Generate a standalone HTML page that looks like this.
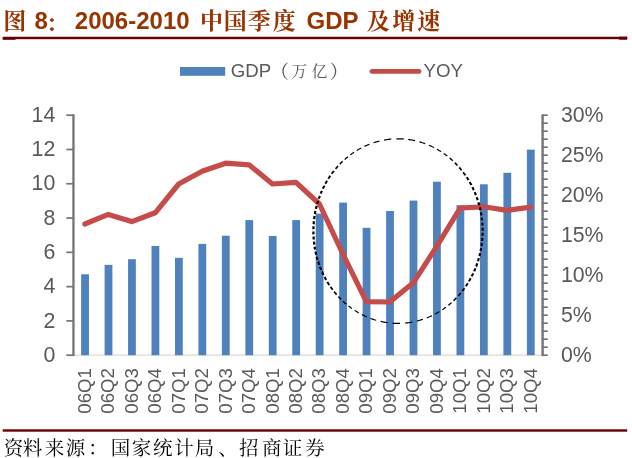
<!DOCTYPE html>
<html lang="zh-CN"><head><meta charset="utf-8"><title>图 8</title>
<style>
html,body{margin:0;padding:0;background:#fff;}
body{width:632px;height:458px;overflow:hidden;position:relative;font-family:"Liberation Sans","Noto Serif CJK SC",sans-serif;}
svg{position:absolute;left:0;top:0;display:block;filter:blur(0.4px)}
.ax{font-family:"Liberation Sans",sans-serif;fill:#595959}
.kai{font-family:"Liberation Sans","Noto Serif CJK SC",serif}
</style></head><body>
<svg width="632" height="458" viewBox="0 0 632 458">
<rect x="0" y="0" width="632" height="458" fill="#ffffff"/>
<text class="kai" x="3.20" y="29.0" font-size="23" font-weight="bold" fill="#993300">图</text>
<text class="kai" x="34.60" y="29.3" font-size="24" font-weight="bold" fill="#993300">8</text>
<text class="kai" x="46.10" y="30.9" font-size="22" font-weight="bold" fill="#993300">：</text>
<text class="kai" x="74.80" y="29.3" font-size="24" font-weight="bold" fill="#993300">2006-2010</text>
<text class="kai" x="200.00 223.80 247.70 272.70" y="29.0" font-size="23" font-weight="bold" fill="#993300">中国季度</text>
<text class="kai" x="306.60" y="29.3" font-size="24" font-weight="bold" fill="#993300">GDP</text>
<text class="kai" x="366.80 392.30 417.30" y="29.0" font-size="23" font-weight="bold" fill="#993300">及增速</text>
<rect x="2.7" y="36.75" width="624.5" height="2.45" fill="#6a0004"/>
<rect x="2.7" y="38" width="12.8" height="1.8" fill="#6a0004"/>
<rect x="619" y="36.7" width="8.2" height="3.0" fill="#6a0004"/>
<rect x="180" y="67" width="45.2" height="8.8" fill="#4f81bd"/>
<text class="kai" x="230.80" y="76.8" font-size="18.67" font-weight="normal" fill="#595959">GDP</text>
<text class="kai" x="270.27" y="77.6" font-size="18.67" font-weight="normal" fill="#595959">（</text>
<text class="kai" x="291.55 311.65" y="76.9" font-size="15.5" font-weight="normal" fill="#595959">万亿</text>
<text class="kai" x="329.87" y="77.6" font-size="18.67" font-weight="normal" fill="#595959">）</text>
<line x1="372" y1="71.4" x2="419" y2="71.4" stroke="#c44d4b" stroke-width="4.9" stroke-linecap="round"/>
<text class="ax" x="423.6" y="76.8" font-size="18.67">YOY</text>
<line x1="73.1" y1="355.2" x2="542.3" y2="355.2" stroke="#d9d9d9" stroke-width="1.3"/>
<rect x="81.13" y="274.29" width="7.8" height="80.91" fill="#4f81bd"/>
<rect x="104.59" y="264.86" width="7.8" height="90.34" fill="#4f81bd"/>
<rect x="128.05" y="259.20" width="7.8" height="96.00" fill="#4f81bd"/>
<rect x="151.51" y="246.00" width="7.8" height="109.20" fill="#4f81bd"/>
<rect x="174.97" y="257.83" width="7.8" height="97.37" fill="#4f81bd"/>
<rect x="198.43" y="243.94" width="7.8" height="111.26" fill="#4f81bd"/>
<rect x="221.89" y="235.71" width="7.8" height="119.49" fill="#4f81bd"/>
<rect x="245.35" y="220.11" width="7.8" height="135.09" fill="#4f81bd"/>
<rect x="268.81" y="236.06" width="7.8" height="119.14" fill="#4f81bd"/>
<rect x="292.27" y="220.11" width="7.8" height="135.09" fill="#4f81bd"/>
<rect x="315.73" y="213.60" width="7.8" height="141.60" fill="#4f81bd"/>
<rect x="339.19" y="202.63" width="7.8" height="152.57" fill="#4f81bd"/>
<rect x="362.65" y="227.83" width="7.8" height="127.37" fill="#4f81bd"/>
<rect x="386.11" y="211.03" width="7.8" height="144.17" fill="#4f81bd"/>
<rect x="409.57" y="200.57" width="7.8" height="154.63" fill="#4f81bd"/>
<rect x="433.03" y="181.71" width="7.8" height="173.49" fill="#4f81bd"/>
<rect x="456.49" y="205.20" width="7.8" height="150.00" fill="#4f81bd"/>
<rect x="479.95" y="184.29" width="7.8" height="170.91" fill="#4f81bd"/>
<rect x="503.41" y="172.80" width="7.8" height="182.40" fill="#4f81bd"/>
<rect x="526.87" y="149.66" width="7.8" height="205.54" fill="#4f81bd"/>
<g stroke="#737377" stroke-width="1.7" fill="none">
<line x1="73.44999999999999" y1="114.35000000000001" x2="73.44999999999999" y2="356.05" stroke-width="2.3"/>
<line x1="66.3" y1="115.20" x2="73.44999999999999" y2="115.20"/>
<line x1="66.3" y1="149.49" x2="73.44999999999999" y2="149.49"/>
<line x1="66.3" y1="183.77" x2="73.44999999999999" y2="183.77"/>
<line x1="66.3" y1="218.06" x2="73.44999999999999" y2="218.06"/>
<line x1="66.3" y1="252.34" x2="73.44999999999999" y2="252.34"/>
<line x1="66.3" y1="286.63" x2="73.44999999999999" y2="286.63"/>
<line x1="66.3" y1="320.91" x2="73.44999999999999" y2="320.91"/>
<line x1="66.3" y1="355.20" x2="73.44999999999999" y2="355.20"/>
<line x1="542.5999999999999" y1="114.35000000000001" x2="542.5999999999999" y2="356.05" stroke-width="2.4"/>
<line x1="542.5999999999999" y1="115.20" x2="547.6999999999999" y2="115.20"/>
<line x1="542.5999999999999" y1="123.20" x2="547.6999999999999" y2="123.20"/>
<line x1="542.5999999999999" y1="131.20" x2="547.6999999999999" y2="131.20"/>
<line x1="542.5999999999999" y1="139.20" x2="547.6999999999999" y2="139.20"/>
<line x1="542.5999999999999" y1="147.20" x2="547.6999999999999" y2="147.20"/>
<line x1="542.5999999999999" y1="155.20" x2="547.6999999999999" y2="155.20"/>
<line x1="542.5999999999999" y1="163.20" x2="547.6999999999999" y2="163.20"/>
<line x1="542.5999999999999" y1="171.20" x2="547.6999999999999" y2="171.20"/>
<line x1="542.5999999999999" y1="179.20" x2="547.6999999999999" y2="179.20"/>
<line x1="542.5999999999999" y1="187.20" x2="547.6999999999999" y2="187.20"/>
<line x1="542.5999999999999" y1="195.20" x2="547.6999999999999" y2="195.20"/>
<line x1="542.5999999999999" y1="203.20" x2="547.6999999999999" y2="203.20"/>
<line x1="542.5999999999999" y1="211.20" x2="547.6999999999999" y2="211.20"/>
<line x1="542.5999999999999" y1="219.20" x2="547.6999999999999" y2="219.20"/>
<line x1="542.5999999999999" y1="227.20" x2="547.6999999999999" y2="227.20"/>
<line x1="542.5999999999999" y1="235.20" x2="547.6999999999999" y2="235.20"/>
<line x1="542.5999999999999" y1="243.20" x2="547.6999999999999" y2="243.20"/>
<line x1="542.5999999999999" y1="251.20" x2="547.6999999999999" y2="251.20"/>
<line x1="542.5999999999999" y1="259.20" x2="547.6999999999999" y2="259.20"/>
<line x1="542.5999999999999" y1="267.20" x2="547.6999999999999" y2="267.20"/>
<line x1="542.5999999999999" y1="275.20" x2="547.6999999999999" y2="275.20"/>
<line x1="542.5999999999999" y1="283.20" x2="547.6999999999999" y2="283.20"/>
<line x1="542.5999999999999" y1="291.20" x2="547.6999999999999" y2="291.20"/>
<line x1="542.5999999999999" y1="299.20" x2="547.6999999999999" y2="299.20"/>
<line x1="542.5999999999999" y1="307.20" x2="547.6999999999999" y2="307.20"/>
<line x1="542.5999999999999" y1="315.20" x2="547.6999999999999" y2="315.20"/>
<line x1="542.5999999999999" y1="323.20" x2="547.6999999999999" y2="323.20"/>
<line x1="542.5999999999999" y1="331.20" x2="547.6999999999999" y2="331.20"/>
<line x1="542.5999999999999" y1="339.20" x2="547.6999999999999" y2="339.20"/>
<line x1="542.5999999999999" y1="347.20" x2="547.6999999999999" y2="347.20"/>
<line x1="542.5999999999999" y1="355.20" x2="547.6999999999999" y2="355.20"/>
</g>
<text class="ax" x="55.3" y="121.60" font-size="21.33" text-anchor="end">14</text>
<text class="ax" x="55.3" y="155.98" font-size="21.33" text-anchor="end">12</text>
<text class="ax" x="55.3" y="190.35" font-size="21.33" text-anchor="end">10</text>
<text class="ax" x="55.3" y="224.73" font-size="21.33" text-anchor="end">8</text>
<text class="ax" x="55.3" y="259.10" font-size="21.33" text-anchor="end">6</text>
<text class="ax" x="55.3" y="293.48" font-size="21.33" text-anchor="end">4</text>
<text class="ax" x="55.3" y="327.85" font-size="21.33" text-anchor="end">2</text>
<text class="ax" x="55.3" y="362.23" font-size="21.33" text-anchor="end">0</text>
<text class="ax" x="560.9" y="121.90" font-size="21.33">30%</text>
<text class="ax" x="560.9" y="161.98" font-size="21.33">25%</text>
<text class="ax" x="560.9" y="202.06" font-size="21.33">20%</text>
<text class="ax" x="560.9" y="242.14" font-size="21.33">15%</text>
<text class="ax" x="560.9" y="282.22" font-size="21.33">10%</text>
<text class="ax" x="560.9" y="322.30" font-size="21.33">5%</text>
<text class="ax" x="560.9" y="362.38" font-size="21.33">0%</text>
<text class="ax" font-size="18.67" text-anchor="end" transform="translate(90.83,368.0) rotate(-90)">06Q1</text>
<text class="ax" font-size="18.67" text-anchor="end" transform="translate(114.29,368.0) rotate(-90)">06Q2</text>
<text class="ax" font-size="18.67" text-anchor="end" transform="translate(137.75,368.0) rotate(-90)">06Q3</text>
<text class="ax" font-size="18.67" text-anchor="end" transform="translate(161.21,368.0) rotate(-90)">06Q4</text>
<text class="ax" font-size="18.67" text-anchor="end" transform="translate(184.67,368.0) rotate(-90)">07Q1</text>
<text class="ax" font-size="18.67" text-anchor="end" transform="translate(208.13,368.0) rotate(-90)">07Q2</text>
<text class="ax" font-size="18.67" text-anchor="end" transform="translate(231.59,368.0) rotate(-90)">07Q3</text>
<text class="ax" font-size="18.67" text-anchor="end" transform="translate(255.05,368.0) rotate(-90)">07Q4</text>
<text class="ax" font-size="18.67" text-anchor="end" transform="translate(278.51,368.0) rotate(-90)">08Q1</text>
<text class="ax" font-size="18.67" text-anchor="end" transform="translate(301.97,368.0) rotate(-90)">08Q2</text>
<text class="ax" font-size="18.67" text-anchor="end" transform="translate(325.43,368.0) rotate(-90)">08Q3</text>
<text class="ax" font-size="18.67" text-anchor="end" transform="translate(348.89,368.0) rotate(-90)">08Q4</text>
<text class="ax" font-size="18.67" text-anchor="end" transform="translate(372.35,368.0) rotate(-90)">09Q1</text>
<text class="ax" font-size="18.67" text-anchor="end" transform="translate(395.81,368.0) rotate(-90)">09Q2</text>
<text class="ax" font-size="18.67" text-anchor="end" transform="translate(419.27,368.0) rotate(-90)">09Q3</text>
<text class="ax" font-size="18.67" text-anchor="end" transform="translate(442.73,368.0) rotate(-90)">09Q4</text>
<text class="ax" font-size="18.67" text-anchor="end" transform="translate(466.19,368.0) rotate(-90)">10Q1</text>
<text class="ax" font-size="18.67" text-anchor="end" transform="translate(489.65,368.0) rotate(-90)">10Q2</text>
<text class="ax" font-size="18.67" text-anchor="end" transform="translate(513.11,368.0) rotate(-90)">10Q3</text>
<text class="ax" font-size="18.67" text-anchor="end" transform="translate(536.57,368.0) rotate(-90)">10Q4</text>
<polyline points="84.83,224.00 108.29,214.40 131.75,221.60 155.21,212.80 178.67,184.00 202.13,171.20 225.59,163.20 249.05,164.80 272.51,184.00 295.97,182.40 319.43,204.00 342.89,254.00 366.35,301.60 389.81,302.00 413.27,282.80 436.73,246.40 460.19,208.00 483.65,206.80 507.11,210.40 530.57,207.20" fill="none" stroke="#c44d4b" stroke-width="5.2" stroke-linejoin="round" stroke-linecap="round"/>
<g fill="none" stroke="#000">
<path d="M408.1,139.5 L409.3,139.6 L410.4,139.8 L411.6,140.0 L412.7,140.2 L413.8,140.4 L415.0,140.7 L415.0,140.7" stroke-width="1.20"/>
<path d="M419.4,141.8 L420.4,142.1 L421.4,142.4 L422.3,142.7 L423.3,143.0 L424.3,143.4 L425.2,143.7" stroke-width="1.20"/>
<path d="M428.9,145.2 L429.7,145.5 L430.5,145.9 L431.4,146.3 L432.2,146.7 L433.0,147.0 L433.8,147.4 L433.8,147.5" stroke-width="1.20"/>
<path d="M436.9,149.2 L437.6,149.5 L438.3,150.0 L439.0,150.4 L439.7,150.8 L440.4,151.2 L441.0,151.6 L441.1,151.7" stroke-width="1.20"/>
<path d="M443.7,153.5 L444.3,153.9 L444.9,154.3 L445.5,154.8 L446.1,155.2 L446.7,155.6 L447.3,156.1" stroke-width="1.20"/>
<path d="M449.6,158.0 L450.2,158.4 L450.7,158.9 L451.2,159.3 L451.7,159.8 L452.2,160.2 L452.7,160.7" stroke-width="1.37"/>
<path d="M454.8,162.7 L455.2,163.1 L455.7,163.6 L456.1,164.0 L456.6,164.5 L457.0,165.0 L457.5,165.5" stroke-width="1.56"/>
<path d="M459.3,167.4 L459.7,167.9 L460.1,168.4 L460.4,168.8 L460.8,169.3 L461.2,169.8 L461.6,170.3 L461.6,170.3" stroke-width="1.71"/>
<path d="M463.2,172.3 L463.5,172.7 L463.9,173.2 L464.2,173.7 L464.6,174.2 L464.9,174.7 L465.3,175.1 L465.3,175.2" stroke-width="1.82"/>
<path d="M466.7,177.2 L467.0,177.7 L467.3,178.1 L467.6,178.6 L467.9,179.1 L468.2,179.6 L468.5,180.0 L468.5,180.1" stroke-width="1.92"/>
<path d="M469.7,182.1 L470.0,182.6 L470.3,183.1 L470.5,183.6 L470.8,184.1 L471.1,184.6 L471.3,185.0 L471.3,185.1" stroke-width="2.00"/>
<path d="M472.4,187.1 L472.6,187.6 L472.9,188.1 L473.1,188.6 L473.3,189.1 L473.5,189.6 L473.8,190.1 L473.8,190.1" stroke-width="2.06"/>
<path d="M474.7,192.1 L474.9,192.6 L475.1,193.1 L475.3,193.6 L475.5,194.1 L475.7,194.6 L475.9,195.1 L475.9,195.1" stroke-width="2.11"/>
<path d="M476.7,197.2 L476.9,197.7 L477.0,198.1 L477.2,198.6 L477.4,199.1 L477.5,199.6 L477.7,200.1 L477.7,200.1" stroke-width="2.16"/>
<path d="M478.4,202.2 L478.5,202.7 L478.6,203.2 L478.8,203.7 L478.9,204.2 L479.1,204.7 L479.2,205.2" stroke-width="2.19"/>
<path d="M479.7,207.3 L479.9,207.8 L480.0,208.3 L480.1,208.8 L480.2,209.3 L480.3,209.8 L480.4,210.3 L480.4,210.3" stroke-width="2.20"/>
<path d="M480.8,212.4 L480.9,212.9 L481.0,213.4 L481.1,213.9 L481.2,214.4 L481.3,214.9 L481.4,215.4" stroke-width="2.20"/>
<path d="M481.7,217.5 L481.7,218.0 L481.8,218.5 L481.9,218.9 L481.9,219.4 L482.0,219.9 L482.0,220.4 L482.0,220.5" stroke-width="2.20"/>
<path d="M482.2,222.6 L482.3,223.1 L482.3,223.6 L482.4,224.0 L482.4,224.5 L482.4,225.0 L482.4,225.5 L482.4,225.6" stroke-width="2.20"/>
<path d="M482.5,227.7 L482.6,228.2 L482.6,228.6 L482.6,229.1 L482.6,229.6 L482.6,230.1 L482.6,230.6 L482.6,230.7" stroke-width="2.20"/>
<path d="M482.6,232.8 L482.6,233.3 L482.6,233.8 L482.6,234.2 L482.5,234.7 L482.5,235.2 L482.5,235.7 L482.5,235.8" stroke-width="2.20"/>
<path d="M482.4,237.9 L482.3,238.4 L482.3,238.8 L482.3,239.3 L482.2,239.8 L482.2,240.3 L482.1,240.8 L482.1,240.9" stroke-width="2.20"/>
<path d="M481.9,243.0 L481.8,243.5 L481.8,244.0 L481.7,244.5 L481.6,245.0 L481.6,245.5 L481.5,246.0" stroke-width="2.20"/>
<path d="M481.2,248.1 L481.1,248.6 L481.0,249.0 L480.9,249.5 L480.8,250.0 L480.7,250.5 L480.6,251.0" stroke-width="2.20"/>
<path d="M480.2,253.1 L480.0,253.6 L479.9,254.1 L479.8,254.6 L479.7,255.1 L479.6,255.6 L479.4,256.1 L479.4,256.1" stroke-width="2.20"/>
<path d="M478.9,258.2 L478.7,258.7 L478.6,259.2 L478.4,259.7 L478.3,260.2 L478.1,260.7 L478.0,261.2" stroke-width="2.18"/>
<path d="M477.3,263.3 L477.1,263.8 L477.0,264.2 L476.8,264.7 L476.6,265.2 L476.4,265.7 L476.3,266.2 L476.2,266.2" stroke-width="2.15"/>
<path d="M475.4,268.3 L475.2,268.8 L475.0,269.3 L474.8,269.8 L474.6,270.3 L474.4,270.8 L474.2,271.2 L474.2,271.3" stroke-width="2.10"/>
<path d="M473.2,273.3 L473.0,273.8 L472.8,274.3 L472.5,274.8 L472.3,275.3 L472.0,275.8 L471.8,276.2 L471.8,276.3" stroke-width="2.05"/>
<path d="M470.7,278.3 L470.4,278.8 L470.1,279.3 L469.9,279.8 L469.6,280.3 L469.3,280.7 L469.0,281.2 L469.0,281.3" stroke-width="1.98"/>
<path d="M467.8,283.3 L467.5,283.8 L467.1,284.3 L466.8,284.8 L466.5,285.2 L466.2,285.7 L465.9,286.2" stroke-width="1.90"/>
<path d="M464.5,288.2 L464.1,288.7 L463.7,289.2 L463.4,289.7 L463.0,290.2 L462.6,290.6 L462.3,291.1" stroke-width="1.80"/>
<path d="M460.7,293.1 L460.3,293.6 L459.9,294.1 L459.5,294.5 L459.0,295.0 L458.6,295.5 L458.2,295.9" stroke-width="1.67"/>
<path d="M456.4,297.9 L455.9,298.4 L455.5,298.8 L455.0,299.3 L454.6,299.7 L454.1,300.2 L453.6,300.7 L453.6,300.7" stroke-width="1.52"/>
<path d="M451.5,302.6 L451.0,303.1 L450.4,303.5 L449.9,304.0 L449.4,304.4 L448.8,304.9 L448.3,305.3" stroke-width="1.32"/>
<path d="M445.9,307.2 L445.3,307.6 L444.7,308.1 L444.1,308.5 L443.5,308.9 L442.8,309.4 L442.2,309.8 L442.2,309.8" stroke-width="1.20"/>
<path d="M439.4,311.6 L438.7,312.0 L438.0,312.4 L437.3,312.8 L436.6,313.2 L435.9,313.6 L435.1,314.0" stroke-width="1.20"/>
<path d="M431.9,315.7 L431.0,316.1 L430.2,316.5 L429.4,316.8 L428.5,317.2 L427.7,317.5 L426.8,317.9 L426.8,317.9" stroke-width="1.20"/>
<path d="M422.9,319.3 L421.9,319.6 L420.9,319.9 L419.9,320.2 L418.9,320.5 L417.9,320.8 L416.9,321.1 L416.9,321.1" stroke-width="1.20"/>
<path d="M412.3,322.1 L411.1,322.3 L409.9,322.5 L408.8,322.7 L407.6,322.8 L406.4,322.9 L405.2,323.1 L405.2,323.1" stroke-width="1.20"/>
<path d="M400.0,323.4 L398.8,323.4 L397.5,323.4 L396.3,323.4 L395.1,323.3 L393.8,323.3 L392.6,323.2 L392.5,323.2" stroke-width="1.20"/>
<path d="M387.5,322.7 L386.3,322.5 L385.2,322.3 L384.1,322.1 L382.9,321.9 L381.8,321.7 L380.7,321.4 L380.6,321.4" stroke-width="1.20"/>
<path d="M376.2,320.3 L375.3,320.0 L374.3,319.7 L373.4,319.4 L372.4,319.1 L371.5,318.7 L370.5,318.4 L370.5,318.4" stroke-width="1.20"/>
<path d="M366.8,316.9 L366.0,316.5 L365.2,316.2 L364.4,315.8 L363.6,315.4 L362.8,315.0 L362.0,314.6 L361.9,314.6" stroke-width="1.20"/>
<path d="M358.8,312.9 L358.1,312.5 L357.4,312.1 L356.8,311.7 L356.1,311.3 L355.4,310.8 L354.7,310.4 L354.7,310.4" stroke-width="1.20"/>
<path d="M352.0,308.6 L351.4,308.2 L350.8,307.7 L350.3,307.3 L349.7,306.8 L349.1,306.4 L348.5,306.0" stroke-width="1.20"/>
<path d="M346.2,304.1 L345.7,303.6 L345.1,303.2 L344.6,302.7 L344.1,302.3 L343.6,301.8 L343.1,301.3" stroke-width="1.38"/>
<path d="M341.1,299.4 L340.6,298.9 L340.2,298.5 L339.7,298.0 L339.3,297.6 L338.9,297.1 L338.4,296.6 L338.4,296.6" stroke-width="1.57"/>
<path d="M336.6,294.6 L336.2,294.1 L335.8,293.7 L335.4,293.2 L335.0,292.7 L334.6,292.3 L334.3,291.8 L334.2,291.8" stroke-width="1.71"/>
<path d="M332.7,289.8 L332.3,289.3 L332.0,288.8 L331.6,288.3 L331.3,287.9 L331.0,287.4 L330.6,286.9 L330.6,286.9" stroke-width="1.83"/>
<path d="M329.2,284.9 L328.9,284.4 L328.6,283.9 L328.3,283.4 L328.0,283.0 L327.7,282.5 L327.4,282.0 L327.4,281.9" stroke-width="1.92"/>
<path d="M326.2,279.9 L325.9,279.4 L325.6,278.9 L325.4,278.4 L325.1,278.0 L324.9,277.5 L324.6,277.0 L324.6,277.0" stroke-width="2.00"/>
<path d="M323.5,274.9 L323.3,274.4 L323.1,273.9 L322.8,273.5 L322.6,273.0 L322.4,272.5 L322.2,272.0 L322.1,272.0" stroke-width="2.06"/>
<path d="M321.2,269.9 L321.0,269.4 L320.8,268.9 L320.6,268.4 L320.4,267.9 L320.2,267.5 L320.0,267.0 L320.0,266.9" stroke-width="2.12"/>
<path d="M319.3,264.9 L319.1,264.4 L318.9,263.9 L318.7,263.4 L318.6,262.9 L318.4,262.4 L318.3,261.9 L318.2,261.9" stroke-width="2.16"/>
<path d="M317.6,259.8 L317.4,259.3 L317.3,258.8 L317.2,258.3 L317.0,257.8 L316.9,257.3 L316.8,256.8" stroke-width="2.19"/>
<path d="M316.2,254.7 L316.1,254.2 L316.0,253.7 L315.9,253.3 L315.8,252.8 L315.7,252.3 L315.5,251.8 L315.5,251.7" stroke-width="2.20"/>
<path d="M315.1,249.6 L315.0,249.2 L314.9,248.7 L314.9,248.2 L314.8,247.7 L314.7,247.2 L314.6,246.7" stroke-width="2.20"/>
<path d="M314.3,244.6 L314.2,244.1 L314.2,243.6 L314.1,243.1 L314.1,242.6 L314.0,242.1 L313.9,241.6" stroke-width="2.20"/>
<path d="M313.7,239.5 L313.7,239.0 L313.7,238.5 L313.6,238.0 L313.6,237.5 L313.6,237.0 L313.5,236.5 L313.5,236.5" stroke-width="2.20"/>
<path d="M313.5,234.4 L313.4,233.9 L313.4,233.4 L313.4,232.9 L313.4,232.4 L313.4,231.9 L313.4,231.4 L313.4,231.4" stroke-width="2.20"/>
<path d="M313.4,229.3 L313.4,228.8 L313.4,228.3 L313.5,227.8 L313.5,227.3 L313.5,226.8 L313.5,226.3 L313.5,226.3" stroke-width="2.20"/>
<path d="M313.6,224.2 L313.7,223.7 L313.7,223.2 L313.8,222.7 L313.8,222.2 L313.8,221.7 L313.9,221.2 L313.9,221.2" stroke-width="2.20"/>
<path d="M314.1,219.1 L314.2,218.6 L314.2,218.1 L314.3,217.6 L314.4,217.1 L314.5,216.6 L314.5,216.1" stroke-width="2.20"/>
<path d="M314.9,214.0 L315.0,213.5 L315.0,213.0 L315.1,212.5 L315.2,212.0 L315.3,211.5 L315.4,211.0" stroke-width="2.20"/>
<path d="M315.9,208.9 L316.0,208.4 L316.1,207.9 L316.2,207.4 L316.4,206.9 L316.5,206.4 L316.6,205.9 L316.6,205.9" stroke-width="2.20"/>
<path d="M317.2,203.8 L317.3,203.3 L317.5,202.8 L317.6,202.3 L317.8,201.8 L317.9,201.3 L318.1,200.8" stroke-width="2.18"/>
<path d="M318.8,198.8 L318.9,198.3 L319.1,197.8 L319.3,197.3 L319.5,196.8 L319.6,196.3 L319.8,195.8 L319.8,195.8" stroke-width="2.15"/>
<path d="M320.7,193.7 L320.9,193.2 L321.1,192.7 L321.3,192.2 L321.5,191.8 L321.7,191.3 L321.9,190.8 L321.9,190.8" stroke-width="2.10"/>
<path d="M322.9,188.7 L323.1,188.2 L323.3,187.7 L323.6,187.2 L323.8,186.7 L324.1,186.3 L324.3,185.8 L324.3,185.7" stroke-width="2.05"/>
<path d="M325.4,183.7 L325.7,183.2 L325.9,182.7 L326.2,182.3 L326.5,181.8 L326.8,181.3 L327.1,180.8 L327.1,180.8" stroke-width="1.98"/>
<path d="M328.3,178.7 L328.6,178.3 L329.0,177.8 L329.3,177.3 L329.6,176.8 L329.9,176.3 L330.2,175.8 L330.2,175.8" stroke-width="1.90"/>
<path d="M331.7,173.8 L332.0,173.3 L332.4,172.9 L332.7,172.4 L333.1,171.9 L333.4,171.5 L333.8,171.0 L333.8,170.9" stroke-width="1.80"/>
<path d="M335.5,168.9 L335.9,168.5 L336.3,168.0 L336.7,167.5 L337.1,167.0 L337.5,166.6 L337.9,166.1" stroke-width="1.67"/>
<path d="M339.8,164.1 L340.2,163.7 L340.7,163.2 L341.1,162.8 L341.6,162.3 L342.1,161.8 L342.5,161.4 L342.6,161.4" stroke-width="1.51"/>
<path d="M344.7,159.4 L345.2,159.0 L345.7,158.5 L346.3,158.1 L346.8,157.6 L347.4,157.2 L347.9,156.7" stroke-width="1.31"/>
<path d="M350.3,154.9 L350.9,154.4 L351.5,154.0 L352.1,153.5 L352.7,153.1 L353.4,152.7 L354.0,152.3 L354.0,152.3" stroke-width="1.20"/>
<path d="M356.8,150.5 L357.5,150.1 L358.2,149.6 L358.9,149.2 L359.7,148.8 L360.4,148.4 L361.1,148.0 L361.1,148.0" stroke-width="1.20"/>
<path d="M364.4,146.4 L365.2,146.0 L366.1,145.6 L366.9,145.2 L367.8,144.9 L368.7,144.5 L369.5,144.2" stroke-width="1.20"/>
<path d="M373.4,142.8 L374.4,142.5 L375.4,142.1 L376.4,141.8 L377.4,141.6 L378.5,141.3 L379.5,141.0" stroke-width="1.20"/>
<path d="M384.1,140.1 L385.3,139.8 L386.5,139.7 L387.6,139.5 L388.8,139.3 L390.0,139.2 L391.2,139.1 L391.2,139.1" stroke-width="1.20"/>
<path d="M396.4,138.8 L397.6,138.8 L398.9,138.8 L400.1,138.8 L401.3,138.9 L402.6,138.9 L403.8,139.0 L403.9,139.0" stroke-width="1.20"/>
</g>
<rect x="2.7" y="429.3" width="624.5" height="2.4" fill="#6a0002"/>
<text class="kai" x="3.65 22.85 44.85 65.75 88.25" y="454.5" font-size="19.5" font-weight="normal" fill="#000">资料来源：</text>
<text class="kai" x="110.75 131.85 153.05 174.15 194.85 218.25" y="454.5" font-size="19.5" font-weight="normal" fill="#000">国家统计局、</text>
<text class="kai" x="239.05 261.95 282.65 305.25" y="454.5" font-size="19.5" font-weight="normal" fill="#000">招商证券</text>
</svg>
</body></html>
